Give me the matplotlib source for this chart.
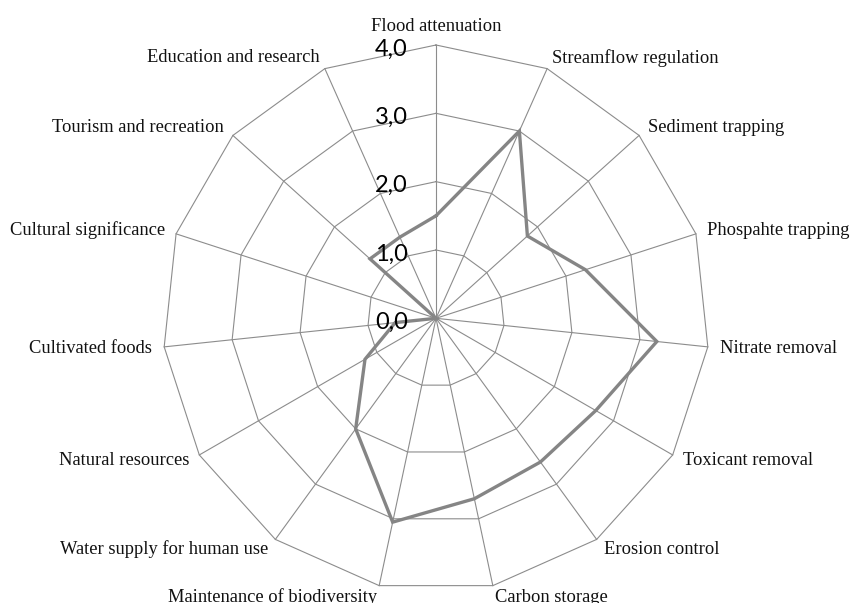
import numpy as np
import matplotlib
matplotlib.use('Agg')
import matplotlib.pyplot as plt

# ecosystem services scored 0-4
services = ['Flood attenuation',
            'Streamflow regulation',
            'Sediment trapping',
            'Phospahte trapping',
            'Nitrate removal',
            'Toxicant removal',
            'Erosion control',
            'Carbon storage',
            'Maintenance of biodiversity',
            'Water supply for human use',
            'Natural resources',
            'Cultivated foods',
            'Cultural significance',
            'Tourism and recreation',
            'Education and research']
scores = [1.5, 3.0, 1.8, 2.3, 3.25, 2.7, 2.6, 2.7,
          3.05, 2.0, 1.2, 0.6, 0.0, 1.3, 1.3]
rings = [0, 1, 2, 3, 4]
ring_labels = ['0,0', '1,0', '2,0', '3,0', '4,0']

grid_col = '#8c8c8c'
line_col = '#858585'

fig = plt.figure(figsize=(8.52, 6.03), dpi=100)
ax = fig.add_axes([0.19096, 0.0189, 0.64155, 0.90647], projection='polar')
ax.set_theta_zero_location('N')
ax.set_theta_direction(-1)
ax.set_ylim(0, rings[-1])
ax.grid(False)
ax.set_xticks([])
ax.set_yticks([])
ax.spines['polar'].set_visible(False)
ax.patch.set_visible(False)

n = len(services)
theta = np.linspace(0, 2 * np.pi, n, endpoint=False)
theta_closed = np.append(theta, theta[0])

# polygon rings and spokes
for r in rings[1:]:
    ax.plot(theta_closed, [r] * (n + 1), color=grid_col, lw=0.8, clip_on=False)
for t in theta:
    ax.plot([t, t], [0, rings[-1]], color=grid_col, lw=0.8, clip_on=False)

# data
vals = np.append(scores, scores[0])
ax.plot(theta_closed, vals, color=line_col, lw=2.4,
        solid_joinstyle='miter', clip_on=False, zorder=3)

# value labels along the top spoke
for r, lab in zip(rings, ring_labels):
    ax.annotate(lab, xy=(0, r), xycoords='data', xytext=(-28, -4),
                textcoords='offset pixels', ha='right', va='center',
                fontsize=17, family='Lato', color='black', zorder=4,
                annotation_clip=False)

# category labels
for t, name in zip(theta, services):
    s, c = np.sin(t), np.cos(t)
    if s > 0.01:
        ha = 'left'
    elif s < -0.01:
        ha = 'right'
    else:
        ha = 'center'
    va = 'bottom' if c > 0.99 else 'center'
    dist = 10 if c > 0.99 else 12
    ax.annotate(name, xy=(t, rings[-1]), xycoords='data',
                xytext=(dist * s, dist * c), textcoords='offset pixels',
                ha=ha, va=va, fontsize=13.3, family='Liberation Serif',
                color='#111111', annotation_clip=False)

fig.savefig('out.png', dpi=100, facecolor='white')
